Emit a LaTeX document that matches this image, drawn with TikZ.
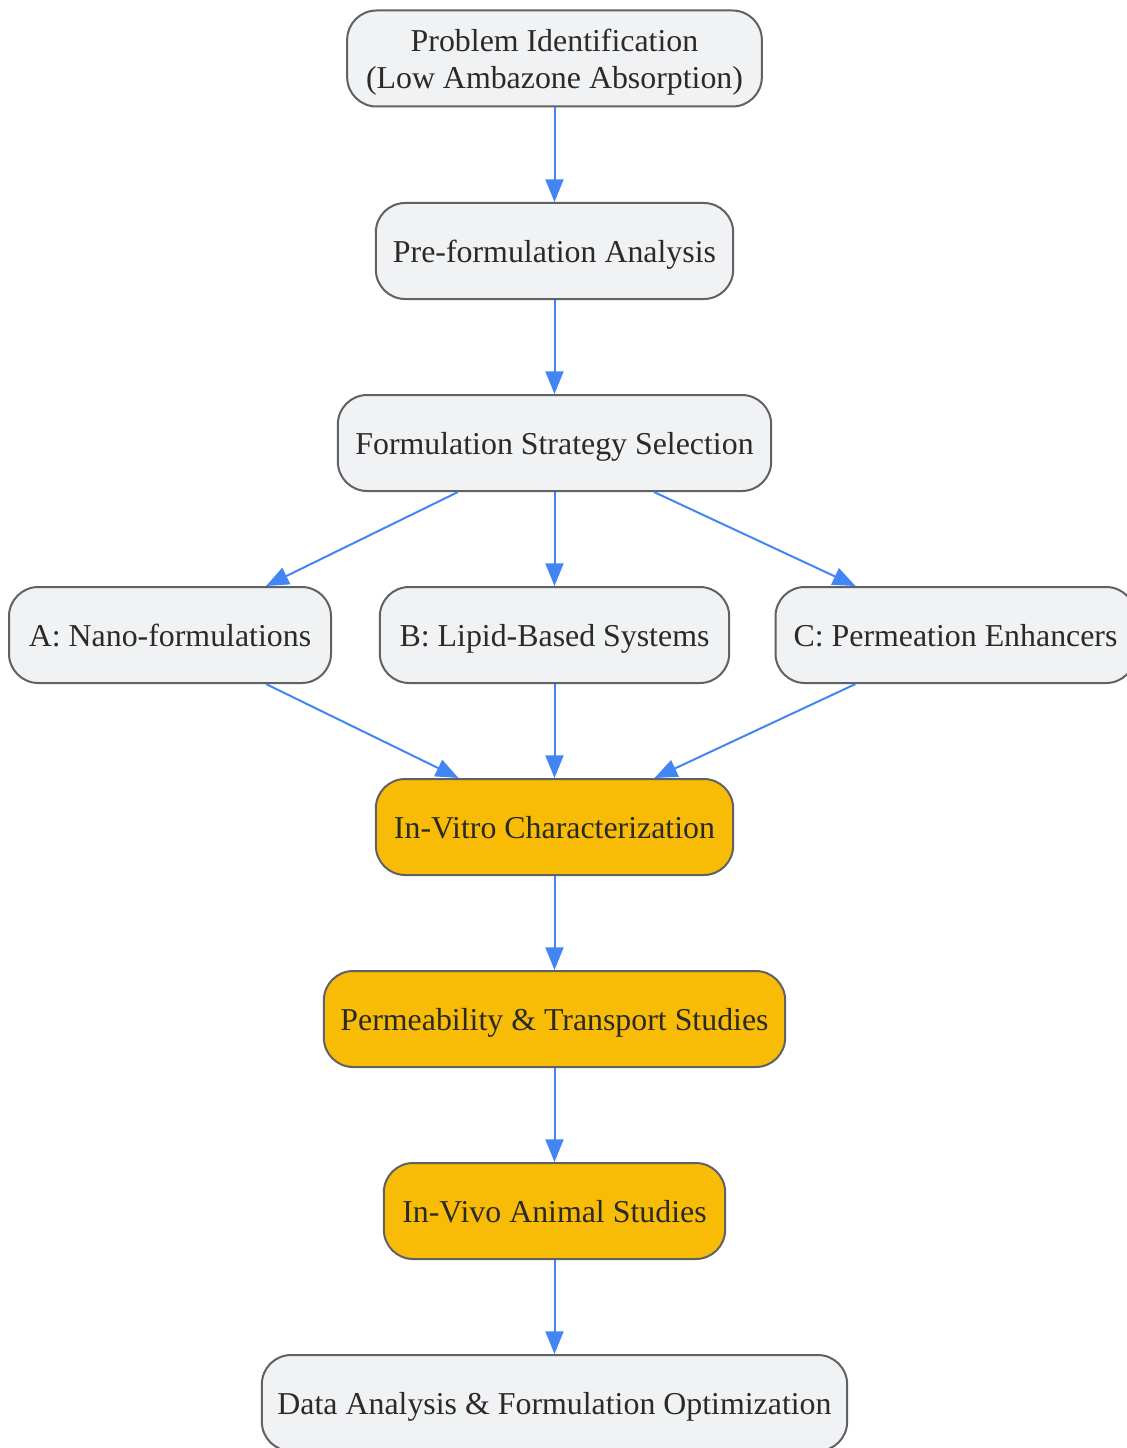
\documentclass[tikz,border=0pt]{standalone}
\usepackage{fontspec}
\setmainfont{Liberation Serif}
\usetikzlibrary{arrows.meta}
\definecolor{boxfill}{HTML}{F1F2F4}
\definecolor{boxdraw}{HTML}{5F6165}
\definecolor{gold}{HTML}{F9BC06}
\definecolor{edge}{HTML}{4285F4}
\definecolor{txt}{HTML}{2A2A2A}
\tikzset{
  box/.style={draw=boxdraw, fill=boxfill, line width=1.5pt, rounded corners=22pt,
    minimum height=72pt, align=center, text=txt, inner sep=0pt,
    text height=23pt, text depth=6pt,
    font=\fontsize{23.9pt}{27.8pt}\selectfont},
  goldbox/.style={box, fill=gold},
  flow/.style={draw=edge, line width=1.5pt, -{Triangle[length=17pt,width=13.5pt]}},
}
\begin{document}
\begin{tikzpicture}[x=0.75pt,y=-0.75pt]
\useasboundingbox (0,0) rectangle (1127,1448);
\node[box, minimum width=311pt, text height=50.8pt] (p) at (554.5,58.5) {Problem Identification\\(Low Ambazone Absorption)};
\node[box, minimum width=268pt] (pre) at (554.5,251) {Pre-formulation Analysis};
\node[box, minimum width=325pt] (f) at (554.5,443) {Formulation Strategy Selection};
\node[box, minimum width=241.5pt] (a) at (170,635) {A: Nano-formulations};
\node[box, minimum width=262pt] (b) at (554.5,635) {B: Lipid-Based Systems};
\node[box, minimum width=270pt] (c) at (955.5,635) {C: Permeation Enhancers};
\node[goldbox, minimum width=268pt] (iv) at (554.5,827) {In-Vitro Characterization};
\node[goldbox, minimum width=346pt] (pt) at (554.5,1019) {Permeability \& Transport Studies};
\node[goldbox, minimum width=256pt] (an) at (554.5,1211) {In-Vivo Animal Studies};
\node[box, minimum width=439pt] (d) at (554.5,1403) {Data Analysis \& Formulation Optimization};
\draw[flow] (p) -- (pre);
\draw[flow] (pre) -- (f);
\draw[flow] ([xshift=-72.4pt]f.south) -- ([xshift=72pt]a.north);
\draw[flow] (f) -- (b);
\draw[flow] ([xshift=74.6pt]f.south) -- ([xshift=-75pt]c.north);
\draw[flow] ([xshift=72pt]a.south) -- ([xshift=-72pt]iv.north);
\draw[flow] (b) -- (iv);
\draw[flow] ([xshift=-75pt]c.south) -- ([xshift=75pt]iv.north);
\draw[flow] (iv) -- (pt);
\draw[flow] (pt) -- (an);
\draw[flow] (an) -- (d);
\end{tikzpicture}
\end{document}
